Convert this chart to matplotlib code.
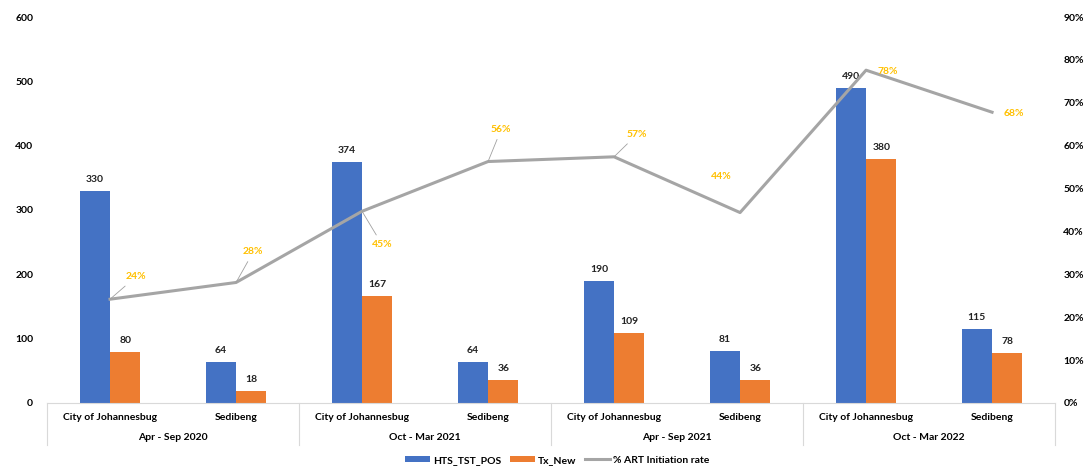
import matplotlib
matplotlib.use("Agg")
import matplotlib.pyplot as plt
import matplotlib.transforms as mtransforms
import numpy as np

plt.rcParams['font.family'] = ['Lato', 'DejaVu Sans']

categories = ["City of Johannesbug", "Sedibeng"] * 4
periods = ["Apr - Sep 2020", "Oct - Mar 2021", "Apr - Sep 2021", "Oct - Mar 2022"]
hts_tst_pos = [330, 64, 374, 64, 190, 81, 490, 115]
tx_new = [80, 18, 167, 36, 109, 36, 380, 78]
art_rate = [24.2, 28.1, 44.7, 56.3, 57.4, 44.4, 77.6, 67.8]
rate_labels = ["24%", "28%", "45%", "56%", "57%", "44%", "78%", "68%"]

BLUE = "#4472C4"
ORANGE = "#ED7D31"
GRAY = "#A5A5A5"
YELLOW = "#FFC000"
FS = 7.5

fig = plt.figure(figsize=(10.84, 4.71), dpi=100)
ax = fig.add_axes([0.0434, 0.1444, 0.9299, 0.8195])
x = np.arange(len(categories))
w = 0.24
b1 = ax.bar(x - w / 2, hts_tst_pos, w, color=BLUE, label="HTS_TST_POS", zorder=2)
b2 = ax.bar(x + w / 2, tx_new, w, color=ORANGE, label="Tx_New", zorder=2)
ax.set_ylim(0, 600)
ax.set_xlim(-0.5, 7.5)
ax.set_yticks(range(0, 601, 100))
for bars, vals in ((b1, hts_tst_pos), (b2, tx_new)):
    for rect, v in zip(bars, vals):
        ax.annotate(str(v), (rect.get_x() + rect.get_width() / 2, v), xytext=(0, 5),
                    textcoords="offset points", ha="center", va="bottom",
                    fontsize=FS, fontweight="bold", color="#222222")

for s in ["top", "right", "left"]:
    ax.spines[s].set_visible(False)
ax.spines["bottom"].set_color("#D9D9D9")
ax.tick_params(axis="y", length=0, labelsize=FS, pad=10)
for t in ax.get_yticklabels():
    t.set_fontweight("bold")
ax.set_xticks(x)
ax.set_xticklabels(categories, fontsize=FS, fontweight="bold")
ax.tick_params(axis="x", length=0, pad=7)

trans = mtransforms.blended_transform_factory(ax.transData, ax.transAxes)
for sep in [-0.5, 1.5, 3.5, 5.5, 7.5]:
    ax.plot([sep, sep], [0, -0.109], transform=trans, color="#D9D9D9", lw=0.8, clip_on=False)
for i, p in enumerate(periods):
    ax.text(2 * i + 0.5, -0.09, p, transform=trans, ha="center", va="center",
            fontsize=FS, fontweight="bold")

ax2 = ax.twinx()
line, = ax2.plot(x, art_rate, color=GRAY, lw=2.2, label="% ART Initiation rate", zorder=3)
ax2.set_ylim(0, 90)
ax2.set_yticks(range(0, 91, 10))
ax2.set_yticklabels([f"{v}%" for v in range(0, 91, 10)])
ax2.tick_params(axis="y", length=0, labelsize=FS, pad=6)
for t in ax2.get_yticklabels():
    t.set_fontweight("bold")
for s in ["top", "right", "left", "bottom"]:
    ax2.spines[s].set_visible(False)

offsets = [(11, 16), (5, 22), (7, -24), (2, 23), (9, 16), (-21, 26), (8, -1), (8, -1)]
leaders = [True, True, True, True, True, False, False, False]
for xi, yi, lab, off, ld in zip(x, art_rate, rate_labels, offsets, leaders):
    ax2.annotate(lab, (xi, yi), xytext=off, textcoords="offset points",
                 ha="left", va="center", fontsize=FS, fontweight="bold", color=YELLOW,
                 arrowprops=dict(arrowstyle="-", color="#A0A0A0", lw=0.6,
                                 shrinkA=2, shrinkB=0) if ld else None)

handles = [b1, b2, line]
fig.legend(handles, [h.get_label() for h in handles], loc="center",
           bbox_to_anchor=(0.514, 0.023), ncol=3, frameon=False,
           handlelength=2.4, handleheight=0.6, handletextpad=0.3, columnspacing=0.8,
           prop={'weight': 'bold', 'size': FS})

fig.savefig("out.png", dpi=100)
